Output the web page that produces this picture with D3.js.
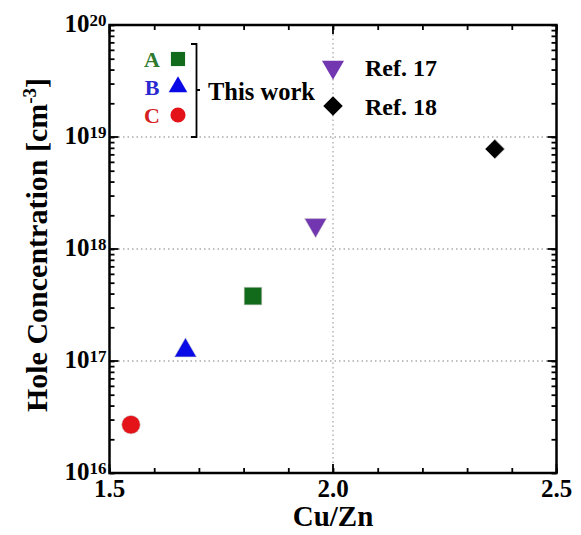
<!DOCTYPE html>
<html><head><meta charset="utf-8">
<script src="https://cdn.jsdelivr.net/npm/d3@7/dist/d3.min.js"></script>
<style>body{margin:0;background:#fff}svg{display:block}text{font-family:"Liberation Serif","Times New Roman",serif;font-weight:bold}</style>
</head><body><svg id="c" width="581" height="535"></svg>
<script>
const labels = ["A","B","C","Ref. 17","Ref. 18"];
const cuzn = [1.821, 1.67, 1.548, 1.961, 2.362];
const holes = [3.8e17, 1.24e17, 2.7e16, 1.64e18, 7.8e18];
const shapes = ["square","triangle","circle","triangleDown","diamond"];
const colors = ["#116b1a","#0a0ae6","#e41319","#7236b0","#000000"];
const textColors = ["#2e7a2e","#2a2ad0","#d42020"];
const xTicks = [1.5, 2.0, 2.5];
const yTicks = [1e16, 1e17, 1e18, 1e19, 1e20];
const yExps = ["16","17","18","19","20"];

const svg = d3.select("#c");
const L=109.5, R=556.5, T=25, B=473;
const x = d3.scaleLinear().domain([1.5,2.5]).range([L,R]);
const y = d3.scaleLog().domain([1e16,1e20]).range([B,T]);

// grid
const g = svg.append("g");
[1e17,1e18,1e19].forEach(v=>g.append("line").attr("x1",L).attr("x2",R).attr("y1",y(v)).attr("y2",y(v))
  .attr("stroke","#aaa").attr("stroke-width",1.3).attr("stroke-dasharray","1.5,3"));
g.append("line").attr("x1",x(2)).attr("x2",x(2)).attr("y1",T).attr("y2",B)
  .attr("stroke","#aaa").attr("stroke-width",1.3).attr("stroke-dasharray","1.5,3");

// axes with inward ticks
const minorX = d3.range(15,26).map(d=>d/10);
const axB = d3.axisBottom(x).tickValues(minorX).tickSize(-5).tickFormat("");
const axT = d3.axisTop(x).tickValues(minorX).tickSize(-5).tickFormat("");
const minorY = [];
for(let e=16;e<20;e++) for(let m=1;m<10;m++) minorY.push(m*Math.pow(10,e));
minorY.push(1e20);
const axL = d3.axisLeft(y).tickValues(minorY).tickSize(-5).tickFormat("");
const axR = d3.axisRight(y).tickValues(minorY).tickSize(-5).tickFormat("");
function style(sel){ sel.select(".domain").remove(); sel.selectAll("line").attr("stroke","#000").attr("stroke-width",1.8);}
svg.append("g").attr("transform",`translate(0,${B})`).call(axB).call(style);
svg.append("g").attr("transform",`translate(0,${T})`).call(axT).call(style);
svg.append("g").attr("transform",`translate(${L},0)`).call(axL).call(style);
svg.append("g").attr("transform",`translate(${R},0)`).call(axR).call(style);
// major ticks longer
xTicks.forEach(v=>{
  svg.append("line").attr("x1",x(v)).attr("x2",x(v)).attr("y1",B).attr("y2",B-9).attr("stroke","#000").attr("stroke-width",1.8);
  svg.append("line").attr("x1",x(v)).attr("x2",x(v)).attr("y1",T).attr("y2",T+9).attr("stroke","#000").attr("stroke-width",1.8);
});
yTicks.forEach(v=>{
  svg.append("line").attr("x1",L).attr("x2",L+9).attr("y1",y(v)).attr("y2",y(v)).attr("stroke","#000").attr("stroke-width",1.8);
  svg.append("line").attr("x1",R).attr("x2",R-9).attr("y1",y(v)).attr("y2",y(v)).attr("stroke","#000").attr("stroke-width",1.8);
});
svg.append("rect").attr("x",L).attr("y",T).attr("width",R-L).attr("height",B-T).attr("fill","none").attr("stroke","#000").attr("stroke-width",2.5);

// tick labels
xTicks.forEach(v=>svg.append("text").attr("x",x(v)).attr("y",497).attr("text-anchor","middle").attr("font-size",25).text(v.toFixed(1)));
yTicks.forEach((v,i)=>{
  const t = svg.append("text").attr("x",L-3).attr("y",y(v)+7).attr("text-anchor","end").attr("font-size",25);
  t.append("tspan").text("10");
  t.append("tspan").attr("dy",-6).attr("font-size",17).text(yExps[i]);
});
// axis titles
svg.append("text").attr("x",x(2)).attr("y",526).attr("text-anchor","middle").attr("font-size",29).text("Cu/Zn");
const yt = svg.append("text").attr("transform",`translate(47,245) rotate(-90)`).attr("text-anchor","middle").attr("font-size",30);
yt.append("tspan").text("Hole Concentration [cm");
yt.append("tspan").attr("dy",-11).attr("font-size",19).text("-3");
yt.append("tspan").attr("dy",11).text("]");

// markers
const sym = {square:d3.symbolSquare, triangle:d3.symbolTriangle, circle:d3.symbolCircle, triangleDown:d3.symbolTriangle, diamond:d3.symbolSquare};
function marker(sel, shape, size){
  const p = sel.append("path").attr("d", d3.symbol().type(sym[shape]).size(size)());
  if(shape==="triangleDown") p.attr("transform","rotate(180)");
  if(shape==="diamond") p.attr("transform","rotate(45)");
  return p;
}
const sizes = {square:310, triangle:210, circle:270, triangleDown:210, diamond:190};
cuzn.forEach((v,i)=>{
  const gg = svg.append("g").attr("transform",`translate(${x(v)},${y(holes[i])})`);
  marker(gg, shapes[i], sizes[shapes[i]]).attr("fill",colors[i]).attr("stroke","#ccc").attr("stroke-width",0.6);
});

// legend
const legY = [59, 87, 115];
[0,1,2].forEach((i,k)=>{
  svg.append("text").attr("x",152).attr("y",legY[k]+8).attr("text-anchor","middle").attr("font-size",22).attr("fill",textColors[i]).text(labels[i]);
  const gg = svg.append("g").attr("transform",`translate(178,${legY[k]})`);
  marker(gg, shapes[i], {square:200,triangle:150,circle:180}[shapes[i]]).attr("fill",colors[i]);
});
svg.append("path").attr("d","M191,44 H196.5 V137 H191 M196.5,90 H200").attr("fill","none").attr("stroke","#000").attr("stroke-width",1.8);
svg.append("text").attr("x",208).attr("y",100).attr("font-size",24.5).text("This work");
[3,4].forEach((i,k)=>{
  const yy = [67,106][k];
  const gg = svg.append("g").attr("transform",`translate(333,${yy})`);
  marker(gg, shapes[i], {triangleDown:210, diamond:190}[shapes[i]]).attr("fill",colors[i]);
  svg.append("text").attr("x",365).attr("y",yy+9).attr("font-size",24).text(labels[i]);
});
</script></body></html>
